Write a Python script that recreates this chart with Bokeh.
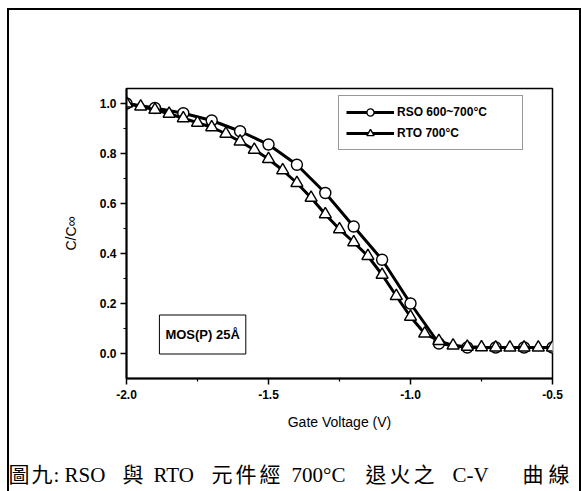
from bokeh.plotting import figure
from bokeh.layouts import column
from bokeh.models import (Range1d, FixedTicker, PrintfTickFormatter, Legend, LegendItem, Label)
from bokeh.embed import file_html
from bokeh.resources import INLINE

# C-V data: gate voltage (V) and normalised capacitance C/Cox
rso_v = [-2.0, -1.9, -1.8, -1.7, -1.6, -1.5, -1.4, -1.3, -1.2, -1.1, -1.0, -0.9,
         -0.8, -0.7, -0.6, -0.5]
rso_c = [1.000, 0.982, 0.961, 0.932, 0.889, 0.836, 0.755, 0.642, 0.508, 0.375, 0.200,
         0.040, 0.024, 0.024, 0.024, 0.024]

rto_v = [-2.00, -1.95, -1.90, -1.85, -1.80, -1.75, -1.70, -1.65, -1.60, -1.55, -1.50,
         -1.45, -1.40, -1.35, -1.30, -1.25, -1.20, -1.15, -1.10, -1.05, -1.00, -0.95,
         -0.90, -0.85, -0.80, -0.75, -0.70, -0.65, -0.60, -0.55, -0.50]
rto_c = [1.000, 0.988, 0.975, 0.959, 0.941, 0.923, 0.905, 0.879, 0.848, 0.815, 0.778,
         0.733, 0.682, 0.623, 0.557, 0.497, 0.445, 0.390, 0.315, 0.230, 0.147, 0.080,
         0.050, 0.032, 0.027, 0.025, 0.024, 0.024, 0.024, 0.024, 0.024]

x_ticks = [-2.0, -1.5, -1.0, -0.5]
x_minor = [-1.75, -1.25, -0.75]
y_ticks = [0.0, 0.2, 0.4, 0.6, 0.8, 1.0]
y_minor = [0.1, 0.3, 0.5, 0.7, 0.9]

series_names = ["RSO 600~700°C", "RTO 700°C"]
sample_note = "MOS(P) 25Å"
# caption pieces and the page x where each starts
caption_parts = [("圖", 8), ("九", 31), (":", 53), ("RSO", 64), ("與", 122), ("RTO", 153),
                 ("元", 211), ("件", 235), ("經", 259), ("700°C", 291), ("退", 365),
                 ("火", 389), ("之", 413), ("C-V", 452), ("曲", 522), ("線", 548)]

# page geometry: a bordered box (left 7px margin, top 8px margin, 2px rules)
OX, OY = 9, 10                 # page position of the box content
W = 570
H1, H2 = 430, 51               # chart strip, caption strip
FL, FR, FT, FB = 126, 552, 88, 378   # plot frame edges on the page

p = figure(width=W, height=H1, output_backend="svg", toolbar_location=None,
           x_range=Range1d(-2.0, -0.5), y_range=Range1d(-0.1, 1.06),
           min_border_left=FL - OX, min_border_right=W - (FR - OX),
           min_border_top=FT - OY, min_border_bottom=H1 - (FB - OY),
           frame_align=False)
p.background_fill_color = "white"
p.border_fill_color = "white"
p.xgrid.visible = False
p.ygrid.visible = False
p.outline_line_color = "black"
p.outline_line_width = 1.5

sans = "'Liberation Sans', Arial, sans-serif"
for ax in (p.xaxis[0], p.yaxis[0]):
    ax.axis_line_width = 2
    ax.major_tick_in = 0
    ax.major_tick_out = 6
    ax.minor_tick_in = 0
    ax.minor_tick_out = 3
    ax.major_tick_line_width = 1.5
    ax.minor_tick_line_width = 1.2
    ax.major_label_text_font = sans
    ax.major_label_text_font_style = "bold"
    ax.major_label_text_font_size = "12px"
    ax.major_label_text_color = "black"
    ax.axis_label_text_font = sans
    ax.axis_label_text_font_style = "normal"
    ax.axis_label_text_font_size = "14px"
    ax.axis_label_text_color = "black"
    ax.formatter = PrintfTickFormatter(format="%.1f")

p.xaxis[0].ticker = FixedTicker(ticks=x_ticks, minor_ticks=x_minor)
p.yaxis[0].ticker = FixedTicker(ticks=y_ticks, minor_ticks=y_minor)
p.xaxis[0].major_label_standoff = 5
p.yaxis[0].major_label_standoff = 4
p.xaxis[0].axis_label = "Gate Voltage (V)"
p.yaxis[0].axis_label = "C/C∞"
p.xaxis[0].axis_label_standoff = 12
p.yaxis[0].axis_label_standoff = 18

# curves
l1 = p.line(rso_v, rso_c, line_color="black", line_width=3)
m1 = p.scatter(rso_v, rso_c, marker="circle", size=11, fill_color="white",
               line_color="black", line_width=1.4)
l2 = p.line(rto_v, rto_c, line_color="black", line_width=3)
m2 = p.scatter(rto_v, rto_c, marker="triangle", size=12, fill_color="white",
               line_color="black", line_width=1.4)

legend = Legend(items=[LegendItem(label=series_names[0], renderers=[l1, m1]),
                       LegendItem(label=series_names[1], renderers=[l2, m2])],
                location=(212, 228), orientation="vertical",
                glyph_width=48, glyph_height=18, label_height=18, label_width=118,
                label_standoff=3, spacing=3, padding=7, margin=0,
                label_text_font=sans, label_text_font_style="bold",
                label_text_font_size="12px", label_text_color="black",
                border_line_color="#333333", border_line_width=1,
                background_fill_color="white", background_fill_alpha=1)
p.add_layout(legend)

p.add_layout(Label(x=-1.732, y=0.076, text=sample_note, text_align="center",
                   text_baseline="middle", text_font=sans, text_font_style="bold",
                   text_font_size="13px", text_color="black", padding=(6, 12),
                   border_line_color="black", border_line_width=1,
                   background_fill_color="white"))

# caption strip
cap = figure(width=W, height=H2, output_backend="svg", toolbar_location=None,
             x_axis_location=None, y_axis_location=None, min_border=0,
             x_range=Range1d(0, W), y_range=Range1d(0, H2), frame_align=False)
cap.xgrid.visible = False
cap.ygrid.visible = False
cap.outline_line_color = None
cap.background_fill_color = "white"
cap.border_fill_color = "white"

cap_font = "'Liberation Serif', 'Noto Sans CJK TC', serif"
base_y = (OY + H1 + H2) - 474
for txt, cx in caption_parts:
    cap.add_layout(Label(x=cx - OX, y=base_y, x_units="screen", y_units="screen",
                         text=txt, text_align="left", text_baseline="alphabetic",
                         text_font=cap_font, text_font_size="21px", text_color="black"))

page = column(p, cap, spacing=0,
              styles={"margin-left": "7px", "margin-top": "8px",
                      "border-left": "2px solid black", "border-right": "2px solid black",
                      "border-top": "2px solid black"})

open("out.html", "w").write(file_html(page, INLINE))
